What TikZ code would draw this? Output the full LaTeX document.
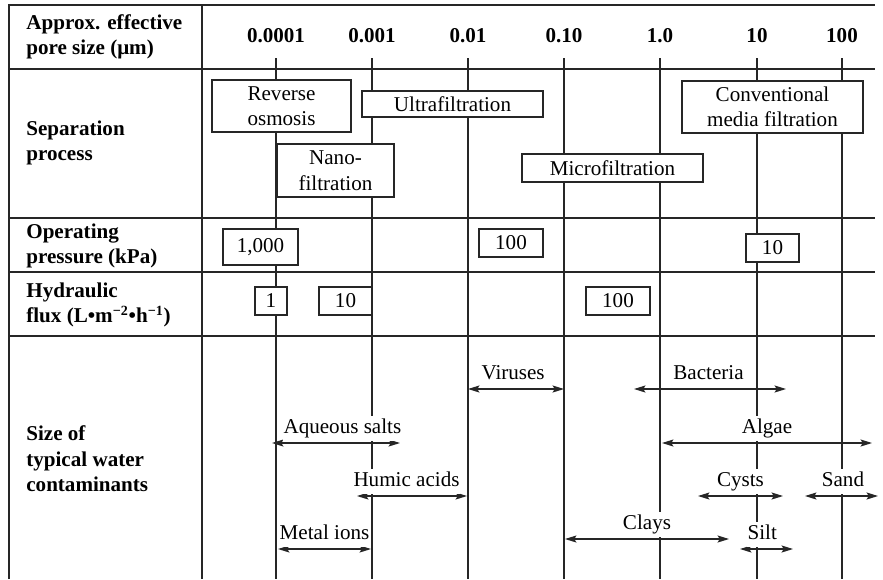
\documentclass[tikz,border=0pt,12pt]{standalone}
\usepackage{fontspec}
\setmainfont{Liberation Serif}
\usetikzlibrary{arrows.meta}

\begin{document}
\begin{tikzpicture}[x=0.02cm,y=-0.02cm]
	\tikzstyle{gridline} = [line width=0.8pt, draw=black!85]
	\tikzstyle{rowhead} = [anchor=west, align=left, inner sep=0pt, font=\bfseries]
	\tikzstyle{poresize} = [font=\bfseries, inner sep=0pt]
	\tikzstyle{procbox} = [rectangle, draw=black!85, line width=0.7pt, fill=white, align=center, inner sep=0pt]
	\tikzstyle{sizespan} = [line width=0.7pt, draw=black!85, {Stealth[length=6.5pt,width=4pt,inset=1.2pt]}-{Stealth[length=6.5pt,width=4pt,inset=1.2pt]}]
	\tikzstyle{spanlabel} = [fill=white, above=0.6pt, inner xsep=0.5pt, inner ysep=1.6pt, text height=0.7em, text depth=0.25em]

	\useasboundingbox (0,0) rectangle (883,579);

	% Frame and row dividers
	\draw[gridline] (9,579) -- (9,5) -- (875,5);
	\draw[gridline] (202,5) -- (202,579);
	\foreach \y in {69,218,272,336}
	\draw[gridline] (9,\y) -- (875,\y);

	% Pore size scale, one line per decade
	\foreach \x/\s in {276/0.0001, 372/0.001, 468/0.01, 564/0.10, 660/1.0, 757/10, 842/100} {
		\node (pore\x) [poresize] at (\x,36) {\s};
		\draw[gridline] (\x,58) -- (\x,579);
	}

	% Row headings
	\node (hdr) [rowhead] at (26,37) {Approx. effective\\pore size (μm)};
	\node (sep) [rowhead] at (26,143) {Separation\\process};
	\node (opp) [rowhead] at (26,246) {Operating\\pressure (kPa)};
	\node (flux) [rowhead] at (26,305) {Hydraulic\\flux (L•m\textsuperscript{−2}•h\textsuperscript{−1})};
	\node (cont) [rowhead] at (26,459) {Size of\\typical water\\contaminants};

	% Separation processes
	\node (RO) [procbox, minimum width=2.78cm, minimum height=1.04cm] at (281.5,106) {Reverse\\osmosis};
	\node (UF) [procbox, minimum width=3.62cm, minimum height=0.52cm] at (452.5,104) {Ultrafiltration};
	\node (NF) [procbox, minimum width=2.34cm, minimum height=1.06cm] at (335.5,170.5) {Nano-\\filtration};
	\node (MF) [procbox, minimum width=3.62cm, minimum height=0.56cm] at (612.5,168) {Microfiltration};
	\node (CF) [procbox, minimum width=3.62cm, minimum height=1.04cm] at (772.5,107) {Conventional\\media filtration};

	% Operating pressure
	\node (P1000) [procbox, minimum width=1.5cm, minimum height=0.72cm] at (260.5,247) {1,000};
	\node (P100) [procbox, minimum width=1.28cm, minimum height=0.56cm] at (511,243) {100};
	\node (P10) [procbox, minimum width=1.06cm, minimum height=0.56cm] at (772.5,248) {10};

	% Hydraulic flux
	\node (F1) [procbox, minimum width=0.64cm, minimum height=0.56cm] at (271,301) {1};
	\node (F10) [procbox, minimum width=1.06cm, minimum height=0.56cm] at (345.5,301) {10};
	\node (F100) [procbox, minimum width=1.28cm, minimum height=0.56cm] at (618,301) {100};

	% Contaminant size ranges (name/from/to/height/label position/label)
	\foreach \n/\l/\r/\y/\p/\t in {vir/468/564/389/0.47/Viruses, bac/634/786/389/0.49/Bacteria,
		salt/272/400/443/0.55/Aqueous salts, alg/662/872/443/0.5/Algae,
		hum/357/467/496/0.45/Humic acids, cys/698/783/496/0.5/Cysts, sand/805/878/496/0.52/Sand,
		clay/565/729/539/0.5/Clays, metal/278/371/549/0.5/Metal ions, silt/740/793/549/0.42/Silt} {
		\coordinate (\n-l) at (\l,\y);
		\coordinate (\n-r) at (\r,\y);
		\draw[sizespan] (\n-l) -- node (\n) [spanlabel, pos=\p] {\t} (\n-r);
	}
\end{tikzpicture}
\end{document}
